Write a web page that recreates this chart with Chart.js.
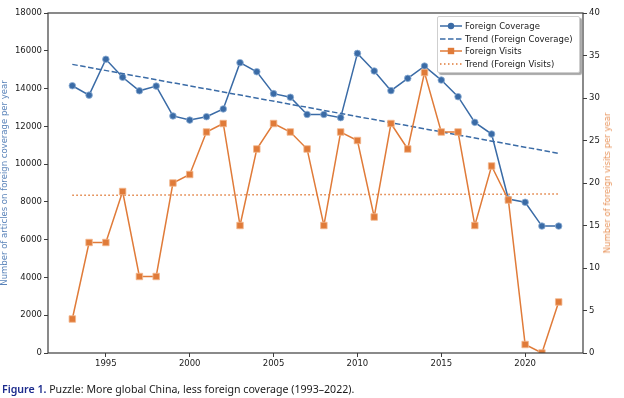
<!DOCTYPE html>
<html>
<head>
<meta charset="utf-8">
<script src="https://cdn.jsdelivr.net/npm/chart.js@4/dist/chart.umd.min.js"></script>
<style>
  html, body { margin: 0; padding: 0; background: #fff; }
  #wrap { position: relative; width: 624px; height: 398px; overflow: hidden; }
  #c { position: absolute; left: 0; top: 0; }
  #legend { position: absolute; left: 437px; top: 16px; width: 141px; height: 55px; background: #fff;
            border: 1px solid #cfcfcf; border-radius: 2px; box-shadow: 2px 2px 1px #a8a8a8;
            font-family: "DejaVu Sans", sans-serif; font-size: 8.5px; color: #1a1a1a; }
  .row { position: absolute; left: 0; height: 12px; width: 141px; }
  .row svg { position: absolute; left: 2px; top: 0; }
  .row span { position: absolute; left: 27px; top: 0; line-height: 12px; white-space: nowrap; }
  #rtitle { position: absolute; left: 607px; top: 183px; transform: translate(-50%, -50%) rotate(-90deg);
            white-space: nowrap; font-family: "DejaVu Sans", sans-serif; font-size: 8.5px; color: #e8935a; }
  #caption { position: absolute; left: 2px; top: 382px; white-space: nowrap;
             font-family: "Noto Sans", sans-serif; font-size: 10.6px; color: #1a1a1a; }
  #caption b { color: #1b2a8c; font-weight: 600; }
</style>
</head>
<body>
<div id="wrap">
  <canvas id="c" width="624" height="398"></canvas>
  <div id="legend"></div>
  <div id="rtitle">Number of foreign visits per year</div>
  <div id="caption"><b>Figure 1.</b> Puzzle: More global China, less foreign coverage (1993–2022).</div>
</div>
<script>
// ---- data ----
const years = [1993, 1994, 1995, 1996, 1997, 1998, 1999, 2000, 2001, 2002,
               2003, 2004, 2005, 2006, 2007, 2008, 2009, 2010, 2011, 2012,
               2013, 2014, 2015, 2016, 2017, 2018, 2019, 2020, 2021, 2022];
const foreignCoverage = [14150, 13650, 15550, 14600, 13880, 14130, 12550, 12330, 12510, 12920,
                         15370, 14890, 13730, 13540, 12630, 12630, 12460, 15860, 14930, 13890,
                         14540, 15190, 14450, 13570, 12210, 11590, 8150, 7980, 6720, 6720];
const foreignVisits = [4, 13, 13, 19, 9, 9, 20, 21, 26, 27,
                       15, 24, 27, 26, 24, 15, 26, 25, 16, 27,
                       24, 33, 26, 26, 15, 22, 18, 1, 0, 6];
const trendYears = [1993, 2022];
const coverageTrend = [15280, 10570];
const visitsTrend = [18.55, 18.7];
const xTicks = [1995, 2000, 2005, 2010, 2015, 2020];
const leftTicks = [0, 2000, 4000, 6000, 8000, 10000, 12000, 14000, 16000, 18000];
const rightTicks = [0, 5, 10, 15, 20, 25, 30, 35, 40];
const legendLabels = ['Foreign Coverage', 'Trend (Foreign Coverage)', 'Foreign Visits', 'Trend (Foreign Visits)'];

// ---- style ----
const BLUE = '#3a6ba6';
const ORANGE = '#e07b39';
const AXIS = '#3d3d3d';
const TXT = '#1a1a1a';
const FONT = { family: 'DejaVu Sans', size: 8.5 };

const pts = (xs, ys) => xs.map((x, i) => ({ x: x, y: ys[i] }));

const framePlugin = {
  id: 'frame',
  afterDatasetsDraw(chart) {
    const a = chart.chartArea, ctx = chart.ctx;
    ctx.save();
    ctx.strokeStyle = AXIS;
    ctx.lineWidth = 1.2;
    ctx.strokeRect(a.left, a.top, a.right - a.left, a.bottom - a.top);
    ctx.restore();
  }
};

const tickOpts = (ticks) => ({
  afterBuildTicks: (s) => { s.ticks = ticks.map(v => ({ value: v })); }
});

new Chart(document.getElementById('c'), {
  type: 'line',
  data: {
    datasets: [
      { label: legendLabels[2], data: pts(years, foreignVisits), yAxisID: 'y2', order: 0,
        borderColor: ORANGE, backgroundColor: ORANGE, borderWidth: 1.5,
        pointStyle: 'rect', pointRadius: 4.6, pointBorderWidth: 0.8, pointBorderColor: '#f3b78e' },
      { label: legendLabels[3], data: pts(trendYears, visitsTrend), yAxisID: 'y2', order: 1,
        borderColor: ORANGE, borderWidth: 1.5, borderDash: [1.5, 2.5], pointRadius: 0 },
      { label: legendLabels[1], data: pts(trendYears, coverageTrend), yAxisID: 'y', order: 2,
        borderColor: BLUE, borderWidth: 1.5, borderDash: [5.5, 2.5], pointRadius: 0 },
      { label: legendLabels[0], data: pts(years, foreignCoverage), yAxisID: 'y', order: 3,
        borderColor: BLUE, backgroundColor: BLUE, borderWidth: 1.5,
        pointStyle: 'circle', pointRadius: 3.3, pointBorderWidth: 0.8, pointBorderColor: '#8fb0d6' }
    ]
  },
  options: {
    responsive: false,
    animation: false,
    events: [],
    layout: { padding: { top: 13, left: 0, right: 0, bottom: 0 } },
    plugins: { legend: { display: false }, tooltip: { enabled: false } },
    scales: {
      x: {
        type: 'linear', min: 1991.55, max: 2023.45,
        afterFit: (s) => { s.height = 45; },
        ...tickOpts(xTicks),
        grid: { drawOnChartArea: false, tickLength: 4, tickColor: AXIS, tickWidth: 1 },
        border: { display: false },
        ticks: { color: TXT, font: FONT, padding: 2, maxRotation: 0, callback: (v) => String(v) }
      },
      y: {
        type: 'linear', position: 'left', min: 0, max: 18000,
        afterFit: (s) => { s.width = 48; },
        ...tickOpts(leftTicks),
        grid: { drawOnChartArea: false, tickLength: 4, tickColor: AXIS, tickWidth: 1 },
        border: { display: false },
        ticks: { color: TXT, font: FONT, padding: 2, callback: (v) => String(v) },
        title: { display: true, text: 'Number of articles on foreign coverage per year',
                 color: '#5b84ba', font: FONT, padding: { top: 0, bottom: 0 } }
      },
      y2: {
        type: 'linear', position: 'right', min: 0, max: 40,
        afterFit: (s) => { s.width = 41; },
        ...tickOpts(rightTicks),
        grid: { drawOnChartArea: false, tickLength: 4, tickColor: AXIS, tickWidth: 1 },
        border: { display: false },
        ticks: { color: TXT, font: FONT, padding: 2, callback: (v) => String(v) }
      }
    }
  },
  plugins: [framePlugin]
});

// ---- legend (HTML, real text) ----
const legendStyles = [
  { color: BLUE, dash: '', marker: 'circle' },
  { color: BLUE, dash: '5.5,2.5', marker: null },
  { color: ORANGE, dash: '', marker: 'rect' },
  { color: ORANGE, dash: '1.5,2.5', marker: null }
];
const rowTops = [3, 15.5, 28, 40.5];
const lg = document.getElementById('legend');
legendLabels.forEach((lab, i) => {
  const st = legendStyles[i];
  const row = document.createElement('div');
  row.className = 'row';
  row.style.top = rowTops[i] + 'px';
  let m = '';
  if (st.marker === 'circle') m = `<circle cx="11" cy="6" r="3.2" fill="${st.color}"/>`;
  if (st.marker === 'rect') m = `<rect x="7.8" y="2.8" width="6.4" height="6.4" fill="${st.color}"/>`;
  row.innerHTML = `<svg width="22" height="12"><line x1="0" y1="6" x2="22" y2="6" stroke="${st.color}" stroke-width="1.5" ${st.dash ? `stroke-dasharray="${st.dash}"` : ''}/>${m}</svg><span>${lab}</span>`;
  lg.appendChild(row);
});
</script>
</body>
</html>
